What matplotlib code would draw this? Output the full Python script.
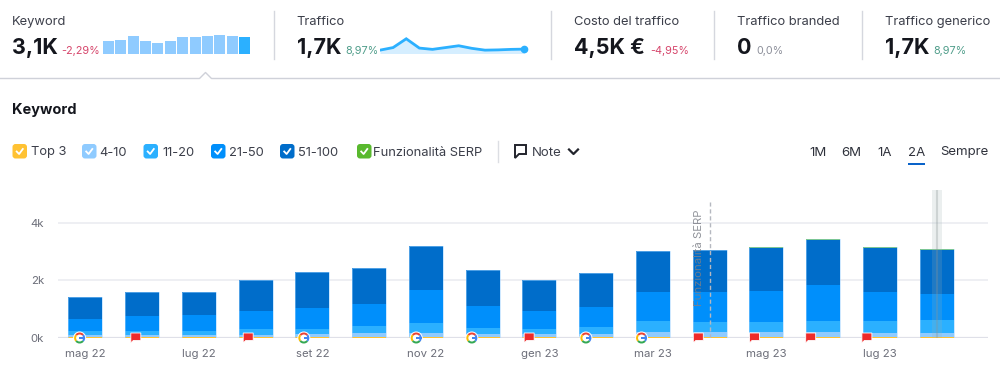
import matplotlib
matplotlib.use('Agg')
import matplotlib.pyplot as plt
import numpy as np
from matplotlib.patches import FancyBboxPatch, Polygon, Wedge, Circle, Rectangle

plt.rcParams['font.family'] = ['Inter', 'DejaVu Sans']

# dati (migliaia di keyword)
months = ['mag 22', 'giu 22', 'lug 22', 'ago 22', 'set 22', 'ott 22', 'nov 22', 'dic 22',
          'gen 23', 'feb 23', 'mar 23', 'apr 23', 'mag 23', 'giu 23', 'lug 23', 'ago 23']
top3 = [0.01] * 16
pos4_10 = [.09, .07, .07, .09, .11, .13, .16, .11, .12, .12, .18, .19, .18, .19, .16, .16]
pos11_20 = [.12, .14, .14, .18, .19, .25, .33, .22, .16, .24, .38, .35, .34, .37, .40, .43]
pos21_50 = [.42, .52, .55, .64, .71, .79, 1.17, .75, .64, .70, 1.03, 1.05, 1.09, 1.25, 1.03, .90]
pos51_100 = [.76, .86, .82, 1.08, 1.25, 1.24, 1.53, 1.25, 1.09, 1.16, 1.42, 1.44, 1.51, 1.58, 1.53, 1.56]
serp = [0, 0, 0, 0, 0, 0, 0, 0, 0, 0, 0, .02, .02, .02, .02, .02]
traffic = [1.3, 2.3, 5.7, 2.1, 1.6, 2.3, 3.0, 2.0, 1.3, 1.4, 1.6, 1.7]

google_notes = [-0.1, 3.85, 5.83, 6.81, 8.82, 9.8]
flag_notes = [0.89, 2.87, 7.82, 10.8, 11.79, 12.78, 13.77]
serp_note = 11.0
current = 15

series = [top3, pos4_10, pos11_20, pos21_50, pos51_100, serp]
colors = ['#ffc233', '#8fcbff', '#2bb0ff', '#008ffb', '#006dca', '#59b92e']

W, H = 1000, 375
fig = plt.figure(figsize=(W / 100, H / 100), dpi=100, facecolor='white')


def px_axes(x0, y0, x1, y1, **kw):
    return fig.add_axes([x0 / W, 1 - y1 / H, (x1 - x0) / W, (y1 - y0) / H], **kw)


# grafico principale
Y0, Y4 = 337.5, 222.7
top_px = 190
ymax = (Y0 - top_px) / (Y0 - Y4) * 4
ax = px_axes(58, top_px, 988, Y0)
step = 56.76
ax.set_xlim((58 - 85.3) / step, (988 - 85.3) / step)
ax.set_ylim(0, ymax)
ax.patch.set_visible(False)
for s in ax.spines.values():
    s.set_visible(False)
ax.set_yticks([0, 2, 4], ['0k', '2k', '4k'])
ax.set_xticks(np.arange(0, 16, 2), months[::2])
ax.tick_params(length=0, labelsize=8.2, labelcolor='#6c6e79')
ax.tick_params(axis='y', pad=10)
ax.tick_params(axis='x', pad=8)
ax.grid(axis='y', color='#eeeff3', lw=1.4)
ax.set_axisbelow(True)

x = np.arange(16)
bottom = np.zeros(16)
for vals, c in zip(series, colors):
    ax.bar(x, vals, width=34 / step, bottom=bottom, color=c, edgecolor='none', zorder=3)
    bottom += np.array(vals)
# bordo chiaro intorno alle barre
ax.bar(x, bottom, width=34 / step, fc='none', ec='#9ed3ff', lw=0.6, alpha=0.6, zorder=3.5)
ax.axhline(0, color='#dfe0e8', lw=1.6, zorder=2)

# evidenziazione mese corrente e nota SERP
ax.axvspan(current - 5.2 / step, current + 5.2 / step, color='#9fb3b3', alpha=0.2, lw=0, zorder=4)
ax.axvline(current, color='#8a9494', alpha=0.3, lw=1.5, zorder=4)
ax.plot([serp_note, serp_note], [0, 4.72], color='#b5b8c0', lw=1, ls=(0, (3, 2)), zorder=5)

# livello in pixel per testi e icone
ov = fig.add_axes([0, 0, 1, 1], zorder=10)
ov.set_xlim(0, W)
ov.set_ylim(H, 0)
ov.axis('off')
ov.patch.set_visible(False)


def txt(x, y, s, size=10, color='#2b2e38', weight='normal', **kw):
    kw.setdefault('va', 'baseline')
    return ov.text(x, y, s, fontsize=size, color=color, fontweight=weight, **kw)


ov.text(698.5, 209, 'Funzionalità SERP', rotation=90, fontsize=8.2, color='#7d8088', alpha=0.85,
        ha='center', va='top')

# intestazione con le metriche
label_c = '#3c3f4a'
big_c = '#14161d'
red = '#d6456b'
green = '#4f9d8a'
grey = '#8c8f9a'
metrics = [
    (12, 'Keyword', '3,1K', 61.5, '-2,29%', red),
    (296.5, 'Traffico', '1,7K', 345, '8,97%', green),
    (574.5, 'Costo del traffico', '4,5K €', 650, '-4,95%', red),
    (737, 'Traffico branded', '0', 756, '0,0%', grey),
    (885, 'Traffico generico', '1,7K', 933, '8,97%', green),
]
for x0, label, big, x1, delta, c in metrics:
    txt(x0, 25, label, size=9.3, color=label_c)
    txt(x0, 54, big, size=15.5, color=big_c, weight='bold')
    txt(x1, 54, delta, size=7.8, color=c)

for xs in [273.5, 550.7, 713.5, 862]:
    ov.plot([xs, xs], [11, 59], color='#d5d7de', lw=1)
ov.plot([0, 199.5, 205.5, 211.5, 1000], [78.5, 78.5, 72.5, 78.5, 78.5], color='#cfd1d9', lw=1)

# mini grafici
totals = np.sum(series, axis=0)
ab = px_axes(102, 34, 251, 53.7)
ab.axis('off')
last12 = totals[-12:]
ab.bar(np.arange(12), last12, width=0.89,
       color=['#8fcbff'] * 11 + ['#2bb0ff'])
ab.set_xlim(-0.5, 11.5)
ab.set_ylim(0, 3.4 * 19.7 / 18.7)

al = px_axes(380, 30, 530, 53.5)
al.axis('off')
tx = np.arange(12)
al.fill_between(tx, traffic, color='#d5eeff', lw=0)
al.plot(tx, traffic, color='#2bb0ff', lw=2, solid_joinstyle='miter')
al.plot(tx[-1], traffic[-1], 'o', color='#2bb0ff', ms=4.5, clip_on=False)
al.set_xlim(0, (530 - 380) / (144.3 / 11))
al.set_ylim(0, 9.1)

# titolo e legenda
txt(12, 114, 'Keyword', size=10.5, color=big_c, weight='bold')
legend = [(12.5, 'Top 3', 31), (82, '4-10', 99), (143.5, '11-20', 162),
          (211, '21-50', 229.5), (280, '51-100', 298), (357, 'Funzionalità SERP', 373)]
for (bx, name, tx0), c in zip(legend, colors):
    ov.add_patch(FancyBboxPatch((bx + 2, 146), 10.5, 10.5, boxstyle='round,pad=2,rounding_size=3',
                                fc=c, ec='none'))
    ov.plot([bx + 4.2, bx + 6.6, bx + 10.3], [151.5, 154, 149], color='white', lw=1.3)
    txt(tx0, 155.5, name, size=9.3, color=label_c)

ov.plot([498, 498], [141, 162], color='#dcdee3', lw=1)
ov.add_patch(Polygon([[515, 145], [526, 145], [526, 154], [519, 154], [515, 158]],
                     closed=True, fc='none', ec='#22242c', lw=1.4))
txt(532, 155.5, 'Note', size=9.5, color=label_c)
ov.plot([569, 573.5, 578], [149.5, 154, 149.5], color='#22242c', lw=1.6)

for rx, r in [(809, '1M'), (841, '6M'), (877, '1A'), (908, '2A'), (940, 'Sempre')]:
    txt(rx, 155.5, r, size=9.5, color='#2f323c')
ov.add_patch(Rectangle((908, 162.5), 17, 2.4, fc='#0a63c9', ec='none'))


# icone delle note sulla linea di base
def note_x(pos):
    return 85.3 + step * pos


for p in google_notes:
    cx, cy = note_x(p), 338
    ov.add_patch(Circle((cx, cy), 6.5, fc='white', ec='none'))
    # con l'asse y invertito gli angoli girano in senso orario
    for a, b, c in [(-140, -40, '#ea4335'), (140, 220, '#fbbc05'), (40, 140, '#34a853'), (-40, 40, '#4285f4')]:
        ov.add_patch(Wedge((cx, cy), 5.5, a, b, width=2, fc=c, ec='none'))
    ov.add_patch(Rectangle((cx - 0.2, cy - 1), 5.5, 2, fc='#4285f4', ec='none'))

for p in flag_notes:
    cx = note_x(p)
    ov.add_patch(Polygon([[cx - 5, 333], [cx + 5, 333], [cx + 5, 340.5], [cx - 2.5, 340.5],
                          [cx - 5, 343]], closed=True, fc='#ee2b2b', ec='white', lw=0.6))

fig.savefig('out.png', dpi=100)
